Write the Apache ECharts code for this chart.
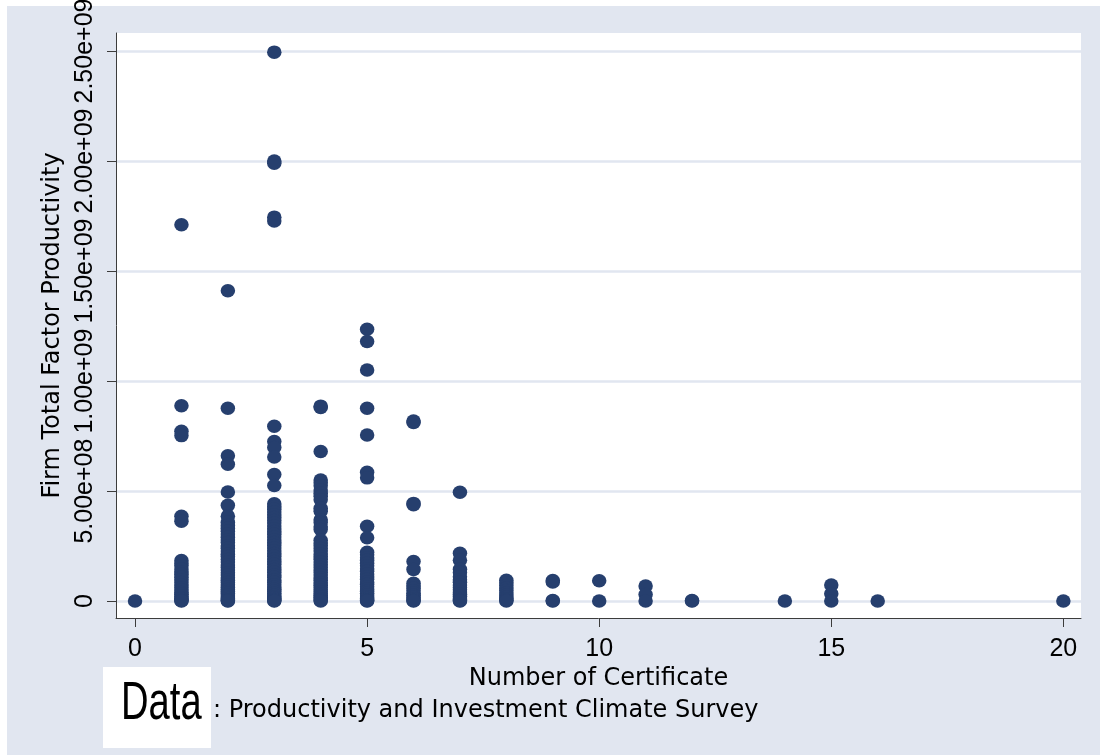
<!DOCTYPE html>
<html>
<head>
<meta charset="utf-8">
<title>Firm TFP by number of certificates</title>
<script src="https://cdn.jsdelivr.net/npm/echarts@6/dist/echarts.min.js"></script>
<style>
  html, body { margin: 0; padding: 0; background: #ffffff; }
  #chart { width: 1107px; height: 755px; }
</style>
</head>
<body>
<div id="chart"></div>
<script>
// Number of certificates held by the firm (x) and firm total factor productivity (y)
const certCounts = [0, 1, 2, 3, 4, 5, 6, 7, 8, 9, 10, 11, 12, 14, 15, 16, 20];

const tfpC0 = [0];
const tfpC1 = [1.71e9, 8.88e8, 7.72e8, 7.52e8, 3.85e8, 3.63e8, 1.84e8, 1.71e8, 1.6e8, 1.46e8, 1.33e8, 1.22e8, 1.08e8, 9.7e7, 8.4e7, 7.3e7, 6.1e7, 5e7, 3.9e7, 3.1e7, 2.2e7, 1.4e7, 8e6, 3e6, 0];
const tfpC2 = [1.41e9, 8.76e8, 6.6e8, 6.22e8, 4.96e8, 4.35e8, 3.86e8, 3.58e8, 3.44e8, 3.31e8, 3.17e8, 3.05e8, 2.9e8, 2.78e8, 2.66e8, 2.51e8, 2.4e8, 2.27e8, 2.13e8, 2.02e8, 1.89e8, 1.77e8, 1.64e8, 1.52e8, 1.41e8, 1.29e8, 1.18e8, 1.06e8, 9.5e7, 8.4e7, 7.4e7, 6.3e7, 5.3e7, 4.4e7, 3.5e7, 2.7e7, 1.9e7, 1.2e7, 6e6, 2e6, 0];
const tfpC3 = [2.495e9, 2.0e9, 1.99e9, 1.745e9, 1.728e9, 7.95e8, 7.25e8, 6.98e8, 6.55e8, 5.75e8, 5.25e8, 4.42e8, 4.3e8, 4.17e8, 4.05e8, 3.92e8, 3.8e8, 3.66e8, 3.55e8, 3.41e8, 3.29e8, 3.16e8, 3.04e8, 2.91e8, 2.78e8, 2.66e8, 2.53e8, 2.41e8, 2.29e8, 2.16e8, 2.04e8, 1.91e8, 1.8e8, 1.67e8, 1.55e8, 1.43e8, 1.31e8, 1.19e8, 1.08e8, 9.6e7, 8.5e7, 7.4e7, 6.4e7, 5.4e7, 4.5e7, 3.6e7, 2.8e7, 2e7, 1.3e7, 7e6, 3e6, 0];
const tfpC4 = [8.86e8, 8.8e8, 6.8e8, 5.5e8, 5.38e8, 5.24e8, 5.05e8, 4.9e8, 4.76e8, 4.6e8, 4.22e8, 4.08e8, 3.7e8, 3.57e8, 3.38e8, 3.25e8, 2.76e8, 2.64e8, 2.52e8, 2.39e8, 2.27e8, 2.14e8, 2.02e8, 1.9e8, 1.77e8, 1.65e8, 1.53e8, 1.41e8, 1.3e8, 1.18e8, 1.06e8, 9.5e7, 8.3e7, 7.2e7, 6.2e7, 5.1e7, 4.2e7, 3.3e7, 2.5e7, 1.7e7, 1e7, 5e6, 0];
const tfpC5 = [1.235e9, 1.18e9, 1.05e9, 8.76e8, 7.55e8, 5.85e8, 5.6e8, 3.4e8, 2.88e8, 2.22e8, 2.1e8, 1.97e8, 1.85e8, 1.72e8, 1.6e8, 1.47e8, 1.35e8, 1.23e8, 1.11e8, 9.9e7, 8.7e7, 7.6e7, 6.5e7, 5.5e7, 4.5e7, 3.6e7, 2.7e7, 1.9e7, 1.2e7, 6e6, 2e6, 0];
const tfpC6 = [8.18e8, 8.12e8, 4.44e8, 4.38e8, 1.8e8, 1.44e8, 8.1e7, 7e7, 5.8e7, 4.7e7, 3.6e7, 2.6e7, 1.7e7, 9e6, 3e6, 0];
const tfpC7 = [4.95e8, 2.17e8, 1.86e8, 1.45e8, 1.3e8, 1.1e8, 9.7e7, 8.5e7, 7.3e7, 6.2e7, 5.1e7, 4.1e7, 3.1e7, 2.2e7, 1.4e7, 7e6, 2e6, 0];
const tfpC8 = [9.5e7, 8.3e7, 7.1e7, 5.9e7, 4.8e7, 3.7e7, 2.7e7, 1.8e7, 1e7, 4e6, 0];
const tfpC9 = [9.3e7, 8.7e7, 2e6, 0];
const tfpC10 = [9.2e7, 0];
const tfpC11 = [6.8e7, 3e7, 0];
const tfpC12 = [2e6, 0];
const tfpC14 = [0];
const tfpC15 = [7.3e7, 3.3e7, 0];
const tfpC16 = [0];
const tfpC20 = [0];

const tfpGroups = [tfpC0, tfpC1, tfpC2, tfpC3, tfpC4, tfpC5, tfpC6, tfpC7, tfpC8,
                   tfpC9, tfpC10, tfpC11, tfpC12, tfpC14, tfpC15, tfpC16, tfpC20];

// Axis ticks
const xTicks = [0, 5, 10, 15, 20];
const yTicks = [0, 5e8, 1e9, 1.5e9, 2e9, 2.5e9];

// Pair every TFP value with its certificate count
const points = [];
certCounts.forEach(function (c, i) {
  tfpGroups[i].forEach(function (v) { points.push([c, v]); });
});

// Stata-style scientific labels: 5.00e+08
function sciLabel(v) {
  if (v === 0) return '0';
  const parts = v.toExponential(2).split('e');
  const sign = parts[1].charAt(0) === '-' ? '-' : '+';
  let exp = parts[1].replace(/[+-]/, '');
  if (exp.length < 2) exp = '0' + exp;
  return parts[0] + 'e' + sign + exp;
}

const NAVY = '#263f6e';
const BG = '#e1e6f0';
const AXIS = '#3c3c3c';
const FONT = 'DejaVu Sans';
const TICK_FONT = 'Liberation Sans';

const chart = echarts.init(document.getElementById('chart'), null, { renderer: 'canvas' });

chart.setOption({
  backgroundColor: '#ffffff',
  animation: false,
  grid: {
    left: 116, right: 26, top: 33, bottom: 137,
    outerBoundsMode: 'none',
    containLabel: false,
    show: true, backgroundColor: '#ffffff', borderWidth: 0
  },
  xAxis: {
    type: 'value',
    min: -0.41, max: 20.38,
    name: 'Number of Certificate',
    nameLocation: 'middle',
    nameGap: 44,
    nameTextStyle: { fontFamily: FONT, fontSize: 24, color: '#000' },
    axisLine: { show: true, onZero: false, lineStyle: { color: AXIS, width: 1 } },
    axisTick: { show: true, length: 9, customValues: xTicks, lineStyle: { color: AXIS, width: 1 } },
    axisLabel: {
      customValues: xTicks, margin: 19, showMinLabel: true, showMaxLabel: true,
      fontFamily: TICK_FONT, fontSize: 25, color: '#000'
    },
    splitLine: { show: false }
  },
  yAxis: {
    type: 'value',
    min: -7.7e7, max: 2.582e9,
    name: 'Firm Total Factor Productivity',
    nameLocation: 'middle',
    nameGap: 48,
    nameRotate: 90,
    nameTextStyle: { fontFamily: FONT, fontSize: 24, color: '#000' },
    axisLine: { show: true, onZero: false, lineStyle: { color: AXIS, width: 1 } },
    axisTick: { show: true, length: 9, customValues: yTicks, lineStyle: { color: AXIS, width: 1 } },
    axisLabel: {
      customValues: yTicks, rotate: 90, margin: 18,
      showMinLabel: true, showMaxLabel: true, hideOverlap: false,
      fontFamily: TICK_FONT, fontSize: 25, color: '#000',
      formatter: sciLabel
    },
    splitLine: { show: true, lineStyle: { color: BG, width: 2.5 } }
  },
  graphic: [
    {
      type: 'rect', z: -100, silent: true,
      shape: { x: 7, y: 6, width: 1093, height: 749 },
      style: { fill: BG }
    },
    {
      type: 'rect', silent: true,
      shape: { x: 103, y: 667, width: 108, height: 81 },
      style: { fill: '#ffffff' }
    },
    {
      type: 'text', silent: true,
      x: 121, y: 704, scaleX: 0.72,
      style: {
        text: 'Data', x: 0, y: 0,
        font: '53px "Liberation Sans", Arial, sans-serif',
        fill: '#000', align: 'left', verticalAlign: 'middle'
      }
    },
    {
      type: 'text', silent: true,
      x: 213, y: 711,
      style: {
        text: ': Productivity and Investment Climate Survey', x: 0, y: 0,
        font: '24px "DejaVu Sans", sans-serif',
        fill: '#000', align: 'left', verticalAlign: 'middle'
      }
    }
  ],
  series: [{
    type: 'scatter',
    data: points,
    symbol: 'circle',
    symbolSize: [14.5, 13.5],
    itemStyle: { color: NAVY, opacity: 1 },
    emphasis: { disabled: true }
  }]
});
</script>
</body>
</html>
